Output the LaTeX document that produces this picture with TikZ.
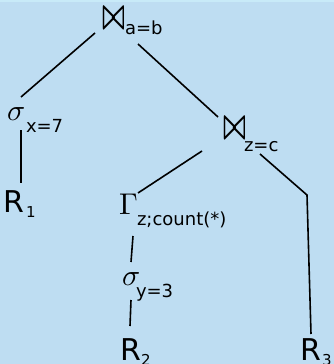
\documentclass[tikz,border=0pt]{standalone}
\usepackage{graphicx}
\usepackage{fontspec}
\setmainfont{DejaVu Sans}
\definecolor{bg}{RGB}{190,221,242}
\definecolor{bgtop}{RGB}{200,234,248}
\newcommand{\joinsym}{\resizebox{23pt}{20pt}{\boldmath$\bowtie$}}
\newcommand{\bigmath}[1]{\scalebox{3}{\fontsize{10}{12}\selectfont$#1$}}
\tikzset{
  lbl/.style={anchor=base west, inner sep=0pt, outer sep=0pt},
  sub/.style={lbl, font=\fontsize{18}{18}\selectfont},
  rel/.style={lbl, font=\fontsize{30}{30}\selectfont},
  relsub/.style={lbl, font=\fontsize{15}{15}\selectfont},
  edge/.style={line width=1.6pt, black, line cap=butt, line join=miter},
}
\begin{document}
\begin{tikzpicture}[x=1pt, y=-1pt]
\fill[bg] (0,0) rectangle (334,364);
\fill[bgtop] (0,0) rectangle (334,1.5);
\useasboundingbox (0,0) rectangle (334,364);
% operators
\node[lbl] (j1) at (102,28) {\joinsym};
\node[sub] (j1s) at (125,34) {a=b};
\node[lbl] (s1) at (7,120) {\bigmath{\sigma}};
\node[sub] (s1s) at (26,132) {x=7};
\node[rel] (r1) at (4,212) {R};
\node[relsub] (r1s) at (26,217) {1};
\node[lbl] (j2) at (223,138) {\joinsym};
\node[sub] (j2s) at (244,151) {z=c};
\node[lbl] (g) at (119,214) {\bigmath{\Gamma}};
\node[sub] (gs) at (137,225) {z;count(*)};
\node[lbl] (s2) at (122,285) {\bigmath{\sigma}};
\node[sub] (s2s) at (136,297) {y=3};
\node[rel] (r2) at (120,360) {R};
\node[relsub] (r2s) at (141,365) {2};
\node[rel] (r3) at (300,360) {R};
\node[relsub] (r3s) at (322,365) {3};
% connector end points
\coordinate (j1a) at (95,33);
\coordinate (j1b) at (138,44);
\coordinate (s1t) at (21,97);
\coordinate (s1b) at (21,130);
\coordinate (r1t) at (21,183);
\coordinate (j2t) at (218,117);
\coordinate (j2a) at (202,151);
\coordinate (j2b) at (260,154);
\coordinate (bend) at (307,195);
\coordinate (r3t) at (311,334);
\coordinate (gt) at (138,193);
\coordinate (gb) at (133,236);
\coordinate (s2t) at (131,262);
\coordinate (s2b) at (131,300);
\coordinate (r2t) at (130,326);
% connectors
\draw[edge] (j1a) -- (s1t);
\draw[edge] (s1b) -- (r1t);
\draw[edge] (j1b) -- (j2t);
\draw[edge] (j2a) -- (gt);
\draw[edge] (j2b) -- (bend) -- (r3t);
\draw[edge] (gb) -- (s2t);
\draw[edge] (s2b) -- (r2t);
\end{tikzpicture}
\end{document}
